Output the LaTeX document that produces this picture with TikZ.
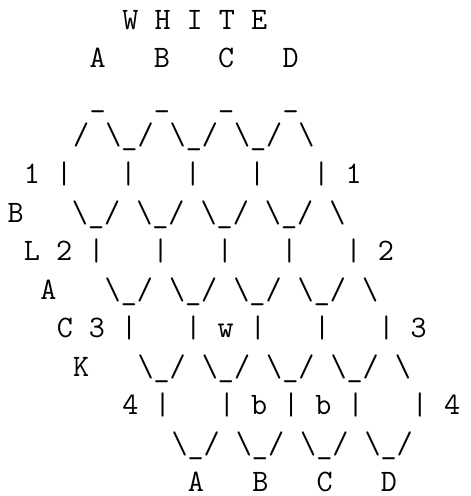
\documentclass[tikz,border=0pt]{standalone}
\usepackage{tikz}
\newcommand\hbs{\textbackslash}
\tikzset{asc/.style={anchor=base west, inner sep=0pt, outer sep=0pt, font=\ttfamily\fontsize{31.23}{38}\selectfont}}
\begin{document}
\begin{tikzpicture}
\fill[white] (0pt,0pt) rectangle (471pt,-496pt);
\useasboundingbox (0pt,0pt) rectangle (471pt,-496pt);
\begin{scope}[shift={(7.6pt,-29.4pt)}, x=16.395pt, y=-38.53pt]
\node[asc] (l0) at (7,0) {W H I T E};
\node[asc] (l1) at (5,1) {A\ \ \ B\ \ \ C\ \ \ D};
\node[asc] (l2) at (5,2) {\_\ \ \ \_\ \ \ \_\ \ \ \_};
\node[asc] (l3) at (4,3) {/ \hbs\_/ \hbs\_/ \hbs\_/ \hbs};
\node[asc] (l4) at (1,4) {1 |\ \ \ |\ \ \ |\ \ \ |\ \ \ | 1};
\node[asc] (l5) at (0,5) {B\ \ \ \hbs\_/ \hbs\_/ \hbs\_/ \hbs\_/ \hbs};
\node[asc] (l6) at (1,6) {L 2 |\ \ \ |\ \ \ |\ \ \ |\ \ \ | 2};
\node[asc] (l7) at (2,7) {A\ \ \ \hbs\_/ \hbs\_/ \hbs\_/ \hbs\_/ \hbs};
\node[asc] (l8) at (3,8) {C 3 |\ \ \ | w |\ \ \ |\ \ \ | 3};
\node[asc] (l9) at (4,9) {K\ \ \ \hbs\_/ \hbs\_/ \hbs\_/ \hbs\_/ \hbs};
\node[asc] (l10) at (7,10) {4 |\ \ \ | b | b |\ \ \ | 4};
\node[asc] (l11) at (10,11) {\hbs\_/ \hbs\_/ \hbs\_/ \hbs\_/};
\node[asc] (l12) at (11,12) {A\ \ \ B\ \ \ C\ \ \ D};
\end{scope}
\end{tikzpicture}
\end{document}
